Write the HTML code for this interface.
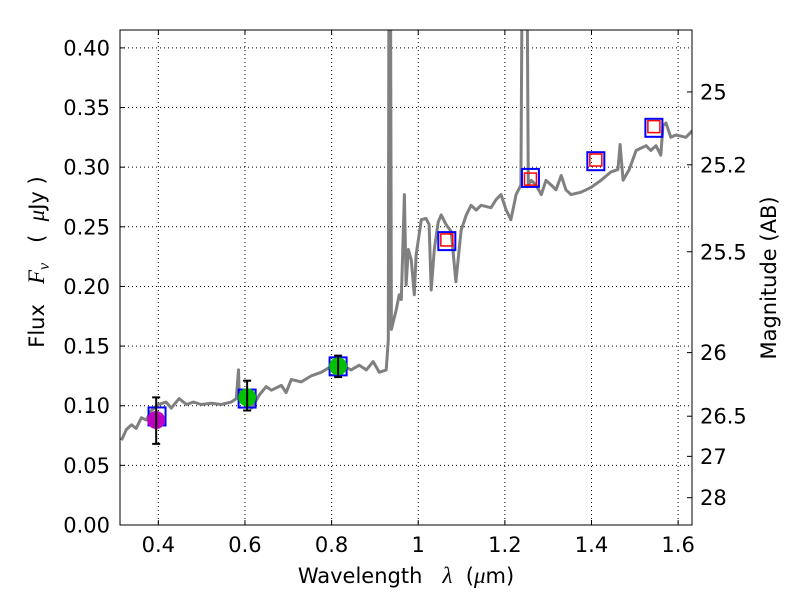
<!DOCTYPE html>
<html><head><meta charset="utf-8"><style>
body{margin:0;background:#fff}
svg text{font-family:"DejaVu Sans","Liberation Sans",sans-serif;fill:#000;white-space:pre}
</style></head><body>
<svg id="chart" width="800" height="600" xmlns="http://www.w3.org/2000/svg"></svg>
<script>
const specLam=[0.315,0.326,0.338,0.349,0.361,0.372,0.384,0.400,0.418,0.430,0.448,0.465,0.481,0.499,0.522,0.545,0.568,0.580,0.585,0.587,0.603,0.615,0.633,0.649,0.661,0.684,0.695,0.707,0.730,0.753,0.776,0.799,0.822,0.845,0.864,0.880,0.896,0.910,0.926,0.931,0.933,0.935,0.938,0.949,0.956,0.961,0.968,0.972,0.977,0.984,0.991,0.995,1.007,1.018,1.025,1.030,1.037,1.046,1.053,1.064,1.076,1.087,1.099,1.111,1.122,1.134,1.145,1.168,1.180,1.191,1.203,1.214,1.226,1.237,1.242,1.249,1.254,1.261,1.272,1.284,1.295,1.307,1.318,1.330,1.341,1.353,1.376,1.399,1.422,1.445,1.461,1.466,1.473,1.487,1.503,1.526,1.537,1.549,1.560,1.565,1.572,1.583,1.595,1.618,1.634];
const specFlux=[0.071,0.080,0.084,0.081,0.090,0.088,0.096,0.101,0.103,0.098,0.106,0.101,0.103,0.101,0.102,0.101,0.103,0.106,0.130,0.105,0.101,0.098,0.109,0.116,0.113,0.117,0.111,0.122,0.120,0.125,0.128,0.133,0.134,0.130,0.134,0.130,0.137,0.128,0.130,0.155,0.600,0.600,0.164,0.180,0.193,0.189,0.277,0.201,0.231,0.222,0.193,0.226,0.256,0.257,0.252,0.197,0.231,0.254,0.260,0.252,0.246,0.204,0.247,0.260,0.268,0.264,0.268,0.266,0.273,0.277,0.264,0.256,0.277,0.285,0.600,0.600,0.285,0.289,0.285,0.277,0.289,0.285,0.281,0.293,0.281,0.277,0.279,0.283,0.289,0.296,0.298,0.319,0.289,0.298,0.314,0.318,0.314,0.318,0.310,0.335,0.337,0.325,0.327,0.325,0.331];
const bandLam=[0.397,0.605,0.815,1.066,1.259,1.410,1.544];
const bandFlux=[0.091,0.106,0.133,0.238,0.291,0.305,0.333];
const modelLam=[1.066,1.259,1.410,1.544];
const modelFlux=[0.239,0.290,0.306,0.334];
const obsLam=[0.395,0.605,0.815];
const obsFlux=[0.088,0.107,0.133];
const obsLo=[0.068,0.096,0.124];
const obsHi=[0.107,0.121,0.142];
const obsColor=['#bf00bf','#00c000','#00c000'];
const xTicks=[0.4,0.6,0.8,1.0,1.2,1.4,1.6];
const xTickLabels=['0.4','0.6','0.8','1','1.2','1.4','1.6'];
const yTicks=[0,0.05,0.1,0.15,0.2,0.25,0.3,0.35,0.4];
const yTickLabels=['0.00','0.05','0.10','0.15','0.20','0.25','0.30','0.35','0.40'];
const magTicks=[25,25.2,25.5,26,26.5,27,28];
const magTickLabels=['25','25.2','25.5','26','26.5','27','28'];

const L=120,R=692,T=30,B=525;
const xMin=0.3115,xMax=1.632,yMin=0,yMax=0.415;
const X=v=>L+(v-xMin)/(xMax-xMin)*(R-L);
const Y=v=>B-(v-yMin)/(yMax-yMin)*(B-T);
const NS='http://www.w3.org/2000/svg';
const svg=document.getElementById('chart');
function mk(tag,at,parent){const e=document.createElementNS(NS,tag);for(const k in at)e.setAttribute(k,at[k]);(parent||svg).appendChild(e);return e;}

const defs=mk('defs',{});const cp=mk('clipPath',{id:'clip'},defs);mk('rect',{x:L,y:T,width:R-L,height:B-T},cp);

xTicks.forEach((t,i)=>{const g=mk('line',{x1:X(t),x2:X(t),y1:T,y2:B,stroke:'#000','stroke-width':1,'stroke-dasharray':'1,3'});

});
yTicks.forEach(t=>{const g=mk('line',{x1:L,x2:R,y1:Y(t),y2:Y(t),stroke:'#000','stroke-width':1,'stroke-dasharray':'1,3'});

});

const pd=specLam.map((l,i)=>(i?'L':'M')+X(l).toFixed(1)+','+Y(specFlux[i]).toFixed(1)).join('');
const sp=mk('path',{d:pd,fill:'none',stroke:'#808080','stroke-width':3,'clip-path':'url(#clip)','stroke-linejoin':'round'});



bandLam.forEach((l,i)=>{const r=mk('rect',{x:X(l)-8.5,y:Y(bandFlux[i])-9,width:17,height:18,fill:'none',stroke:'#0000ff','stroke-width':2});

});
modelLam.forEach((l,i)=>{const r=mk('rect',{x:X(l)-6,y:Y(modelFlux[i])-6,width:12,height:12,fill:'none',stroke:'#ff0000','stroke-width':1.5});

});

obsLam.forEach((l,i)=>{const x=X(l);
const g=mk('g',{});


mk('circle',{cx:x,cy:Y(obsFlux[i]),r:9,fill:obsColor[i]},g);
mk('line',{x1:x,x2:x,y1:Y(obsLo[i]),y2:Y(obsHi[i]),stroke:'#000','stroke-width':2},g);
mk('line',{x1:x-4,x2:x+4,y1:Y(obsLo[i]),y2:Y(obsLo[i]),stroke:'#000','stroke-width':2},g);
mk('line',{x1:x-4,x2:x+4,y1:Y(obsHi[i]),y2:Y(obsHi[i]),stroke:'#000','stroke-width':2},g);});

const fr=mk('rect',{x:L,y:T,width:R-L,height:B-T,fill:'none',stroke:'#000','stroke-width':1});



xTicks.forEach((t,i)=>{const x=X(t);
mk('line',{x1:x,x2:x,y1:B,y2:B-5,stroke:'#000'});mk('line',{x1:x,x2:x,y1:T,y2:T+5,stroke:'#000'});
const tx=mk('text',{x:x,y:B+27,'font-size':21,'text-anchor':'middle'});tx.textContent=xTickLabels[i];

});
yTicks.forEach((t,i)=>{const y=Y(t);
mk('line',{x1:L,x2:L+5,y1:y,y2:y,stroke:'#000'});
const tx=mk('text',{x:L-10,y:y+7.5,'font-size':21,'text-anchor':'end'});tx.textContent=yTickLabels[i];

});
magTicks.forEach((m,i)=>{const f=Math.pow(10,(23.9-m)/2.5);const y=Y(f);
mk('line',{x1:R,x2:R-5,y1:y,y2:y,stroke:'#000'});
const tx=mk('text',{x:R+8,y:y+7.5,'font-size':21,'text-anchor':'start'});tx.textContent=magTickLabels[i];

});

let t=mk('text',{x:406,y:583,'font-size':21,'text-anchor':'middle'});
t.innerHTML='Wavelength   <tspan font-family="Liberation Serif" font-style="italic" font-size="23">λ</tspan>  (<tspan font-family="Liberation Serif" font-style="italic" font-size="23">μ</tspan>m)';


t=mk('text',{x:0,y:0,'font-size':21,'text-anchor':'middle',transform:'translate(44,262) rotate(-90)'});
t.innerHTML='Flux   <tspan font-family="Liberation Serif" font-style="italic" font-size="23">F</tspan><tspan font-family="Liberation Serif" font-style="italic" font-size="16" dy="5">ν</tspan><tspan dy="-5">   (  </tspan><tspan font-family="Liberation Serif" font-style="italic" font-size="23">μ</tspan>Jy )';


t=mk('text',{x:0,y:0,'font-size':21,'text-anchor':'middle',transform:'translate(776,278) rotate(-90)'});
t.textContent='Magnitude (AB)';


</script>
</body></html>
